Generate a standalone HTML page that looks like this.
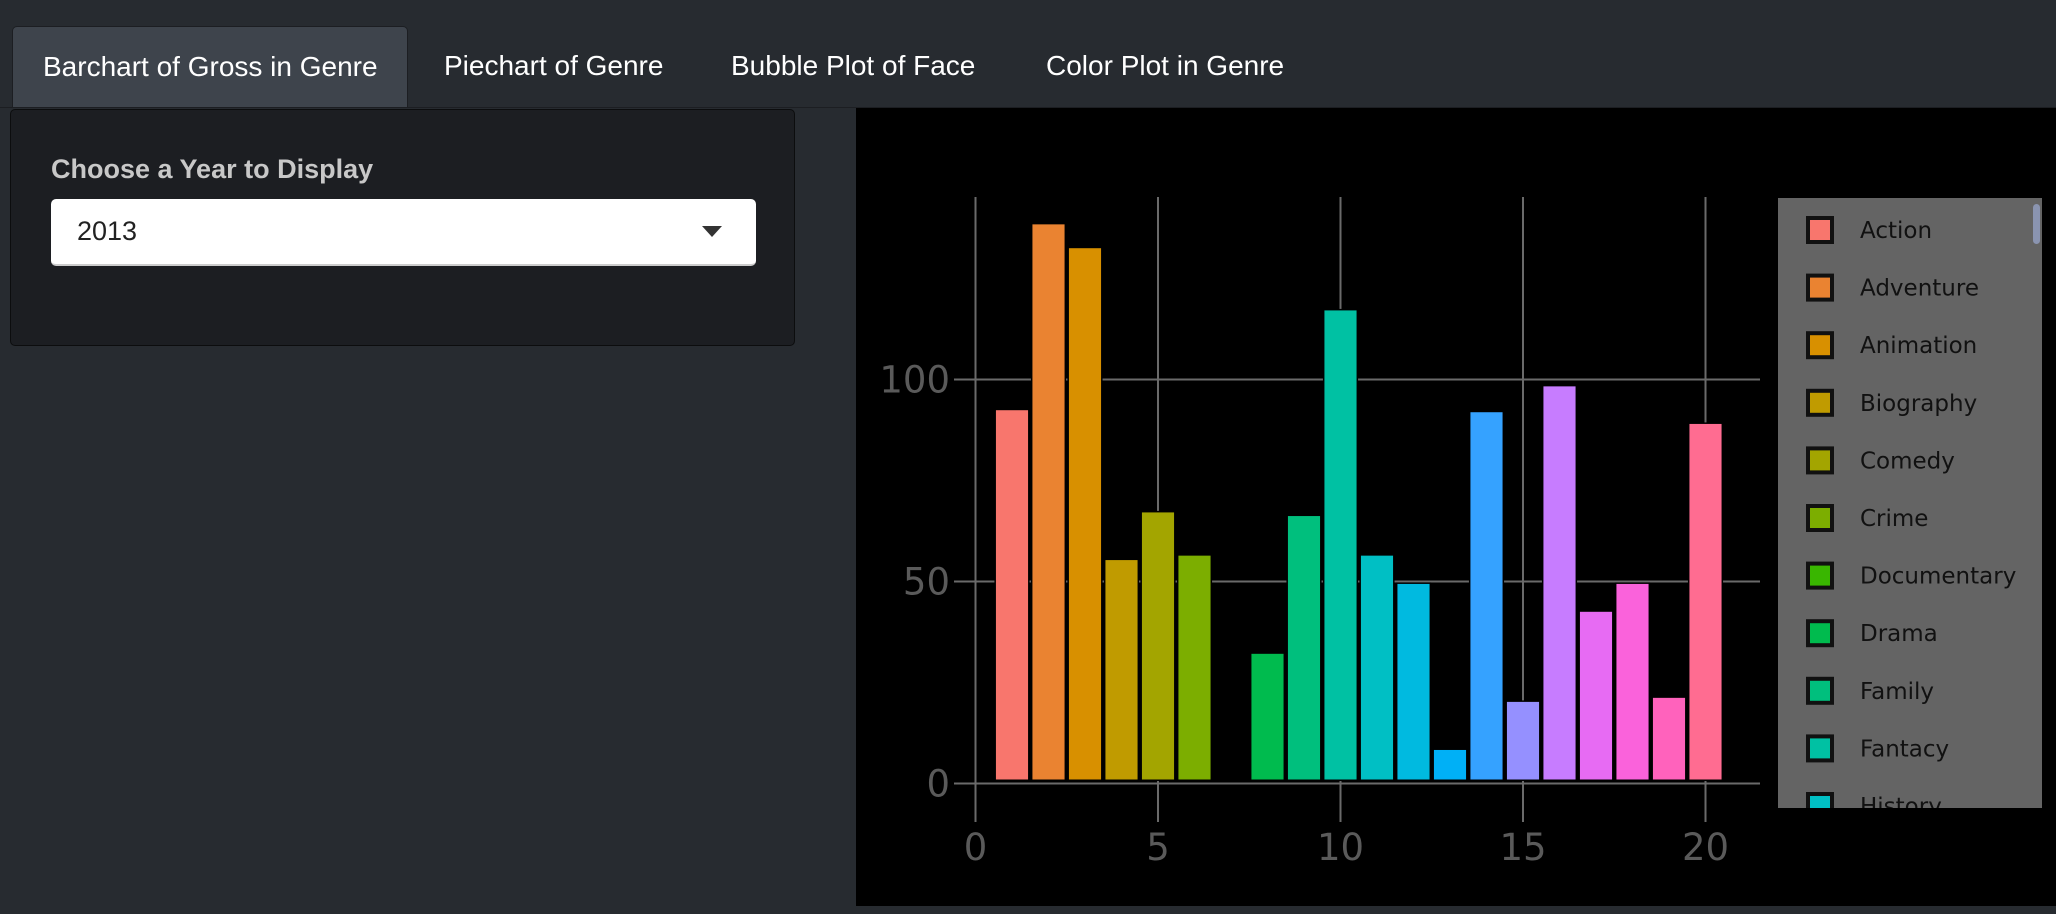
<!DOCTYPE html>
<html><head><meta charset="utf-8"><style>
html,body{margin:0;width:2056px;height:914px;overflow:hidden}
body{background:#272b30;font-family:"Liberation Sans",sans-serif;position:relative}
.tabbar{position:absolute;left:0;top:0;width:2056px;height:107px;border-bottom:1px solid #1c1e22}
.tab{position:absolute;top:26px;height:81px;line-height:80px;color:#fff;font-size:28px;box-sizing:border-box;white-space:nowrap}
.tab.active{background:#3e444c;border:1px solid #1c1e22;border-bottom:none;border-radius:5px 5px 0 0}
.panel{position:absolute;left:10px;top:109px;width:785px;height:237px;background:#1c1e22;border:1px solid #0c0d0e;border-radius:5px;box-sizing:border-box}
.lbl{position:absolute;left:40px;top:44px;color:#c8c8c8;font-weight:bold;font-size:27px;white-space:nowrap}
.sel{position:absolute;left:40px;top:89px;width:705px;height:67px;background:#fff;border-radius:5px;border-bottom:2px solid #ccc;box-sizing:border-box}
.sel span{position:absolute;left:26px;top:17px;font-size:27px;color:#222}
.arrow{position:absolute;right:34px;top:27px;width:0;height:0;border-left:10px solid transparent;border-right:10px solid transparent;border-top:11px solid #333}
#chart{position:absolute;left:856px;top:108px;display:block}
</style></head><body>
<div class="tabbar">
<div class="tab active" style="left:12px;width:396px;padding-left:30px">Barchart of Gross in Genre</div>
<div class="tab" style="left:444px">Piechart of Genre</div>
<div class="tab" style="left:731px">Bubble Plot of Face</div>
<div class="tab" style="left:1046px">Color Plot in Genre</div>
</div>
<div class="panel">
<div class="lbl">Choose a Year to Display</div>
<div class="sel"><span>2013</span><div class="arrow"></div></div>
</div>
<svg id="chart" width="1200" height="798">
<rect x="0" y="0" width="1200" height="798" fill="#000"/>
<g id="grid"></g><g id="bars"></g><g id="axes"></g><g id="legend"></g>
</svg>
<script>
const categories=["Action","Adventure","Animation","Biography","Comedy","Crime","Documentary","Drama","Family","Fantacy","History","Horror","Music","Musical","Mystery","Romance","Sci-Fi","Sport","Thriller","War"];
const xs=[1,2,3,4,5,6,7,8,9,10,11,12,13,14,15,16,17,18,19,20];
const values=[92.4,138.4,132.5,55.3,67.1,56.4,0,32.1,66.2,117.1,56.4,49.4,8.3,91.9,20.2,98.3,42.5,49.4,21.2,89.0];
const colors=["#F8766D","#EA8331","#D89000","#C09B00","#A3A500","#7CAE00","#39B600","#00BB4E","#00BF7D","#00C1A3","#00BFC4","#00BAE0","#00B0F6","#35A2FF","#9590FF","#C77CFF","#E76BF3","#FA62DB","#FF62BC","#FF6C91"];
const xTicks=[0,5,10,15,20];
const yTicks=[0,50,100];
const NS="http://www.w3.org/2000/svg";
const OX=856,OY=108;
function X(v){return 975.5+36.5*v-OX;}
function Y(v){return 783.5-4.04*v-OY;}
function mk(t,a,p){const e=document.createElementNS(NS,t);for(const k in a)e.setAttribute(k,a[k]);p.appendChild(e);return e;}
const grid=document.getElementById('grid'),bars=document.getElementById('bars'),axes=document.getElementById('axes'),leg=document.getElementById('legend');
xTicks.forEach(t=>{
 const l=mk('line',{x1:X(t),x2:X(t),y1:197-OY,y2:822-OY,stroke:'#6a6a6a','stroke-width':2},grid);
 
 
 const tx=mk('text',{x:X(t),y:860-OY,'text-anchor':'middle','font-size':37,fill:'#5a5a5a','font-family':'DejaVu Sans, sans-serif'},axes);
 tx.textContent=t;
 
 
});
yTicks.forEach(t=>{
 const l=mk('line',{x1:954-OX,x2:1760-OX,y1:Y(t),y2:Y(t),stroke:'#6a6a6a','stroke-width':2},grid);
 
 
 const tx=mk('text',{x:950-OX,y:Y(t)+13,'text-anchor':'end','font-size':37,fill:'#5a5a5a','font-family':'DejaVu Sans, sans-serif'},axes);
 tx.textContent=t;
 
 
});
xs.forEach((x,i)=>{
 if(values[i]<=0)return;
 const w=36.5*0.88;
 const r=mk('rect',{x:X(x)-w/2,y:Y(values[i]),width:w,height:Y(0)-4-Y(values[i]),fill:colors[i],stroke:'#000','stroke-width':3,'paint-order':'stroke'},bars);
 
 
});
const lb=mk('rect',{x:1778-OX,y:198-OY,width:264,height:610,fill:'#646464'},leg);


const clip=mk('clipPath',{id:'lc'},leg);mk('rect',{x:1778-OX,y:198-OY,width:264,height:610},clip);
const lg=mk('g',{'clip-path':'url(#lc)'},leg);
categories.forEach((c,i)=>{
 const cy=230+57.6*i-OY;
 const g=mk('g',{},lg);
 
 
 mk('rect',{x:1808-OX,y:cy-12,width:24,height:24,fill:colors[i],stroke:'#111','stroke-width':4},g);
 const t=mk('text',{x:1860-OX,y:cy+8,'font-size':23,fill:'#111','font-family':'DejaVu Sans, sans-serif'},g);
 t.textContent=c;
});
const sb=mk('rect',{x:2033-OX,y:204-OY,width:7,height:40,rx:3.5,fill:'#8a94b0'},leg);


</script>
</body></html>
